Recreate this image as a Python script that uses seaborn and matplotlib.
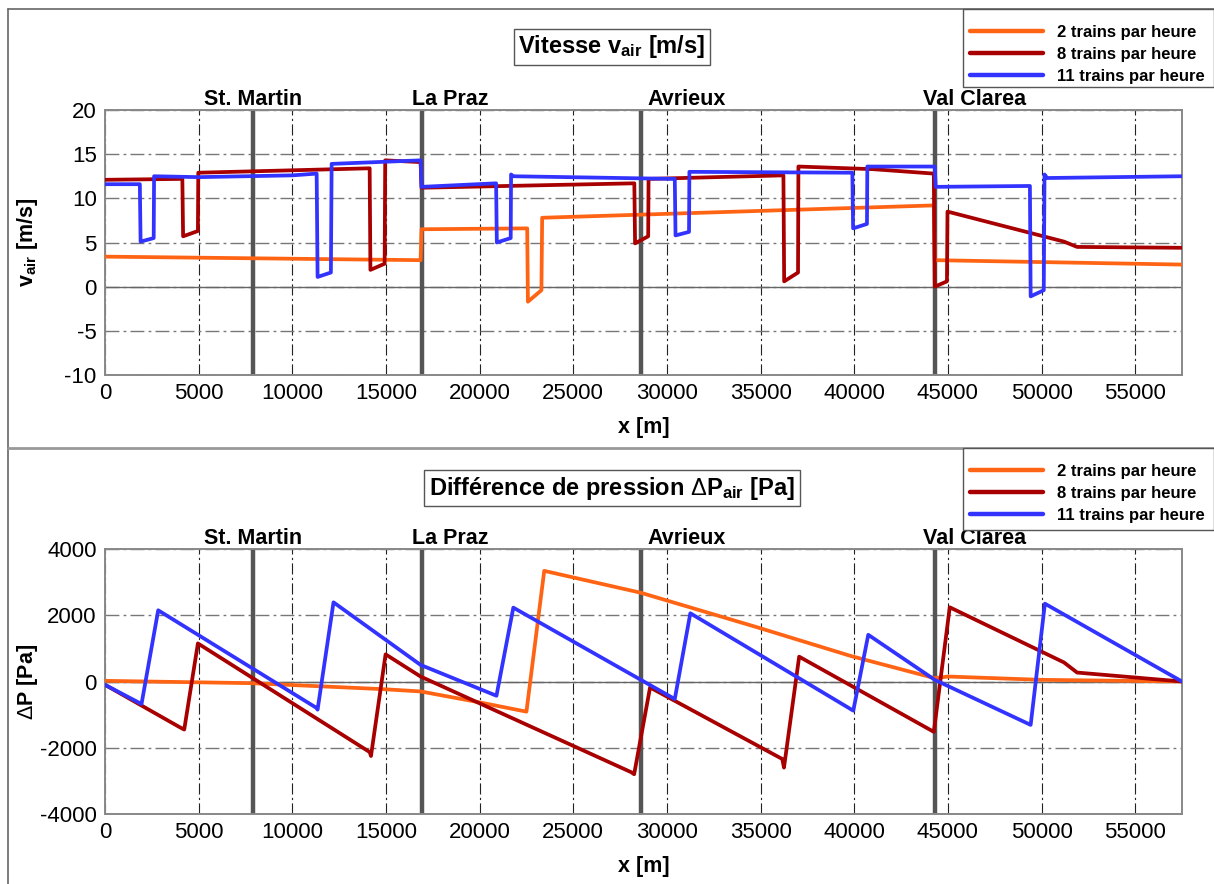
import numpy as np
import pandas as pd
import matplotlib
matplotlib.use('Agg')
import matplotlib.pyplot as plt
from matplotlib.lines import Line2D
from matplotlib.patches import Rectangle
from matplotlib.ticker import MultipleLocator
import seaborn as sns

# stations along the tunnel
stations = [7900, 16900, 28600, 44300]
station_names = ['St. Martin', 'La Praz', 'Avrieux', 'Val Clarea']

series = ['2 trains par heure', '8 trains par heure', '11 trains par heure']
colors = ['#FF6414', '#A80000', '#3333FF']

# air velocity [m/s]
v_x2 = [0, 16850, 16900, 22540, 22580, 23300, 23340, 44250, 44300, 57500]
v_y2 = [3.4, 3.0, 6.5, 6.6, -1.7, -0.4, 7.8, 9.2, 3.0, 2.5]

v_x8 = [0, 4130, 4170, 4960, 4980, 14130, 14170, 14930, 14960, 16850, 16900,
        28260, 28300, 29000, 29020, 36220, 36260, 37000, 37020, 41000, 44250,
        44300, 44950, 44980, 51200, 51900, 57500]
v_y8 = [12.1, 12.2, 5.7, 6.3, 12.9, 13.4, 1.9, 2.6, 14.3, 14.1, 11.2,
        11.7, 4.9, 5.7, 12.2, 12.6, 0.6, 1.6, 13.6, 13.3, 12.8,
        0.0, 0.6, 8.5, 5.1, 4.5, 4.4]

v_x11 = [0, 1860, 1900, 2600, 2620, 5000, 10000, 11300, 11350, 12060, 12100,
         16850, 16900, 20880, 20920, 21660, 21680, 21800, 30420, 30460, 31180,
         31200, 39900, 39940, 40680, 40700, 44300, 44350, 49380, 49420, 50120,
         50160, 50300, 57500]
v_y11 = [11.6, 11.6, 5.1, 5.5, 12.5, 12.4, 12.6, 12.8, 1.1, 1.6, 13.9,
         14.3, 11.3, 11.7, 5.0, 5.5, 12.7, 12.5, 12.2, 5.8, 6.2,
         13.0, 12.9, 6.6, 7.1, 13.6, 13.6, 11.3, 11.4, -1.1, -0.4,
         12.7, 12.3, 12.5]

# pressure difference [Pa]
p_x2 = [0, 7800, 14800, 16850, 20000, 22500, 23450, 28600, 34860, 39820,
        44300, 45000, 50000, 57500]
p_y2 = [20, -50, -230, -300, -630, -910, 3340, 2680, 1630, 770,
        100, 150, 50, 0]

p_x8 = [0, 3990, 4230, 4960, 14130, 14200, 14980, 16850, 28100, 28250,
        29100, 36160, 36250, 37060, 44250, 45100, 51200, 51900, 57500]
p_y8 = [-100, -1380, -1450, 1150, -2130, -2250, 820, 150, -2740, -2800,
        -180, -2340, -2600, 750, -1520, 2240, 575, 270, 0]

p_x11 = [0, 1950, 2840, 11300, 11350, 12200, 16850, 20900, 21800, 30420,
         31250, 39950, 40750, 44300, 49420, 50180, 57500]
p_y11 = [-100, -680, 2150, -800, -850, 2390, 500, -430, 2230, -530,
         2060, -880, 1410, 50, -1310, 2350, 0]


def long_df(xs, ys):
    frames = []
    for name, x, y in zip(series, xs, ys):
        frames.append(pd.DataFrame({'x': x, 'y': y, 'serie': name}))
    return pd.concat(frames, ignore_index=True)


df_v = long_df([v_x2, v_x8, v_x11], [v_y2, v_y8, v_y11])
df_p = long_df([p_x2, p_x8, p_x11], [p_y2, p_y8, p_y11])

sns.set_style('white')
plt.rcParams['font.family'] = ['Liberation Sans', 'DejaVu Sans']
plt.rcParams['mathtext.fontset'] = 'custom'
plt.rcParams['mathtext.rm'] = 'Liberation Sans'
plt.rcParams['mathtext.it'] = 'Liberation Sans:italic'
plt.rcParams['mathtext.bf'] = 'Liberation Sans:bold'
plt.rcParams['axes.unicode_minus'] = False
plt.rcParams['text.color'] = 'black'
plt.rcParams['axes.labelcolor'] = 'black'
plt.rcParams['xtick.color'] = 'black'
plt.rcParams['ytick.color'] = 'black'

W, H = 1214, 884
fig = plt.figure(figsize=(W / 100, H / 100), dpi=100)
ax1 = fig.add_axes([105 / W, 1 - 375 / H, 1077 / W, 265 / H])
ax2 = fig.add_axes([105 / W, 1 - 814 / H, 1077 / W, 265 / H])

palette = dict(zip(series, colors))
dashdot = (0, (10, 3, 2, 3))
label_shift = [0, -500, 360, -650]
label_ha = ['center', 'left', 'left', 'left']

for ax, df, ylim, major, minor, ylabel in [
        (ax1, df_v, (-10, 20), 5, 1, r'$\mathbf{v_{air}}$ [m/s]'),
        (ax2, df_p, (-4000, 4000), 2000, 400, r'$\Delta$P [Pa]')]:
    sns.lineplot(data=df, x='x', y='y', hue='serie', hue_order=series,
                 palette=palette, sort=False, estimator=None, lw=2.7,
                 legend=False, ax=ax, zorder=3)
    ax.set_xlim(0, 57500)
    ax.set_ylim(*ylim)
    ax.xaxis.set_major_locator(MultipleLocator(5000))
    ax.xaxis.set_minor_locator(MultipleLocator(1000))
    ax.yaxis.set_major_locator(MultipleLocator(major))
    ax.yaxis.set_minor_locator(MultipleLocator(minor))
    ax.tick_params(which='both', direction='in', length=5, width=1,
                   color='#666666', labelcolor='black', labelsize=16, pad=6)
    ax.grid(True, axis='x', which='major', ls=dashdot, color='#222222', lw=0.8)
    ax.grid(True, axis='y', which='major', ls=dashdot, color='#777777', lw=1.0)
    ax.axhline(0, color='#666666', lw=1.0, zorder=1)
    for s in ax.spines.values():
        s.set_color('#888888')
        s.set_linewidth(1.4)
    for st, name, dx, ha in zip(stations, station_names, label_shift, label_ha):
        ax.axvline(st, color='#555555', lw=3.2, zorder=2)
        ax.text(st + dx, ylim[1], name, ha=ha, va='bottom', fontsize=15.5,
                fontweight='bold', transform=ax.transData)
    ax.set_xlabel('x [m]', fontsize=15.5, fontweight='bold')
    ax.set_ylabel(ylabel, fontsize=15.5, fontweight='bold')
    ax.xaxis.set_label_coords(0.5, -0.16)
    ax.yaxis.set_label_coords(-0.072, 0.5)
    ax.yaxis.label.set_va('center')

# titles in boxes
box = dict(boxstyle='square,pad=0.2', fc='white', ec='#555555', lw=1)
fig.text(612 / W, 1 - 47 / H, r'Vitesse $\mathbf{v_{air}}$ [m/s]', ha='center',
         va='center', fontsize=17, fontweight='bold', bbox=box)
fig.text(612 / W, 1 - 488 / H,
         r'Différence de pression $\Delta\mathbf{P_{air}}$ [Pa]', ha='center',
         va='center', fontsize=17, fontweight='bold', bbox=box)

# legends in boxes at the top right
handles = [Line2D([], [], color=c, lw=3.2) for c in colors]
for top, bottom in [(9, 87), (448, 530)]:
    fig.add_artist(Rectangle((963 / W, 1 - bottom / H), (W - 963) / W,
                             (bottom - top) / H, transform=fig.transFigure,
                             fc='white', ec='#555555', lw=1, zorder=5))
    leg = fig.legend(handles, series, loc='upper left',
                     bbox_to_anchor=(970 / W, 1 - (top + 16) / H),
                     frameon=False, prop={'weight': 'bold', 'size': 12},
                     handlelength=4.4, handletextpad=0.8, labelspacing=0.42,
                     borderaxespad=0, borderpad=0)
    leg.set_zorder(6)

# panel frame lines
fig.add_artist(Line2D([8 / W, 1], [1 - 9 / H, 1 - 9 / H], color='#666666', lw=1.2))
fig.add_artist(Line2D([8 / W, 8 / W], [0, 1 - 9 / H], color='#666666', lw=1.2))
fig.add_artist(Line2D([8 / W, 1], [1 - 448 / H, 1 - 448 / H], color='#999999', lw=2))

fig.savefig('out.png', dpi=100)
